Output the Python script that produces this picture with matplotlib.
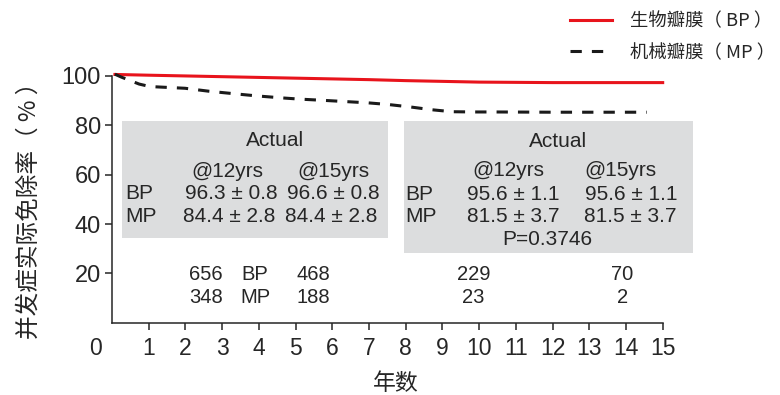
import numpy as np
import matplotlib.pyplot as plt
from matplotlib.patches import Rectangle
from matplotlib.transforms import ScaledTranslation

plt.rcParams['font.family'] = ['Liberation Sans', 'Noto Sans CJK SC', 'DejaVu Sans']
CJK = ['Noto Sans CJK SC', 'Liberation Sans', 'DejaVu Sans']
INK = '#262626'

# freedom from complications, %, by year
bp_years = [0.08, 1, 2, 3, 4, 5, 6, 7, 8, 9, 10, 11, 12, 13, 14, 15]
bp_rate = [100.6, 100.3, 100.0, 99.7, 99.4, 99.1, 98.8, 98.5, 98.1, 97.8,
           97.5, 97.4, 97.3, 97.3, 97.3, 97.3]
mp_years = [0.08, 0.26, 0.74, 1.03, 1.44, 1.99, 2.64, 3.32, 3.95, 4.63,
            5.12, 5.77, 6.37, 6.97, 7.54, 8.14, 8.71, 9.26, 9.86, 10.4,
            12.0, 14.57]
mp_rate = [100.7, 99.5, 96.7, 95.7, 95.4, 95.0, 93.8, 92.8, 91.9, 91.1,
           90.6, 90.1, 89.6, 89.1, 88.4, 87.4, 86.3, 85.5, 85.4, 85.4,
           85.3, 85.3]

# numbers at risk
risk_bp = [656, 468, 229, 70]
risk_mp = [348, 188, 23, 2]

x_ticks = list(range(16))
y_ticks = [20, 40, 60, 80, 100]

fig = plt.figure(figsize=(7.8, 3.95), dpi=100)
ax = fig.add_axes([0.1436, 0.183, 0.706, 0.631])

ax.plot(bp_years, bp_rate, color='#e8141c', lw=2.2, clip_on=False,
        label='生物瓣膜（ BP ）', zorder=3)
ax.plot(mp_years, mp_rate, color='#1a1a1a', lw=2.2, dashes=(3.7, 3.3),
        clip_on=False, label='机械瓣膜（ MP ）', zorder=3)

ax.set_xlim(0, 15)
ax.set_ylim(0, 101)
ax.spines['top'].set_visible(False)
ax.spines['right'].set_visible(False)
for s in ['left', 'bottom']:
    ax.spines[s].set_color(INK)
    ax.spines[s].set_linewidth(1.1)
ax.spines['left'].set_bounds(0, 100)

ax.set_xticks(x_ticks)
ax.set_xticklabels([str(t) for t in x_ticks])
ax.set_yticks(y_ticks)
ax.set_yticklabels([str(t) for t in y_ticks])
ax.tick_params(axis='x', length=5, width=1.1, color=INK, labelcolor=INK,
               labelsize=16.5, pad=5)
ax.tick_params(axis='y', length=5, width=1.1, color=INK, labelcolor=INK,
               labelsize=17, pad=3)
# the 0 label sits left of the y axis, with no tick
ax.xaxis.get_major_ticks()[0].tick1line.set_visible(False)
lbl0 = ax.get_xticklabels()[0]
lbl0.set_transform(lbl0.get_transform() + ScaledTranslation(-0.17, 0, fig.dpi_scale_trans))

fig.text(29 / 780, 1 - 205 / 395, '并发症实际免除率（ % ）', rotation=90,
         ha='center', va='center', fontsize=17, color=INK, family=CJK)
fig.text(396 / 780, 1 - 384 / 395, '年数', ha='center', va='center',
         fontsize=16.5, color=INK, family=CJK)

# summary boxes
box_kw = dict(facecolor='#dcddde', edgecolor='none', clip_on=False, zorder=1)
ax.add_patch(Rectangle((0.27, 34.3), 7.25, 47.5, **box_kw))
ax.add_patch(Rectangle((7.95, 28.3), 7.88, 53.3, **box_kw))

tkw = dict(fontsize=15, color=INK, va='center', zorder=2)
ax.text(4.43, 73.7, 'Actual', ha='center', **tkw)
ax.text(3.13, 61.3, '@12yrs', ha='center', **tkw)
ax.text(6.02, 61.3, '@15yrs', ha='center', **tkw)
ax.text(0.36, 52.3, 'BP', ha='left', **tkw)
ax.text(3.24, 52.3, '96.3 ± 0.8', ha='center', **tkw)
ax.text(6.02, 52.3, '96.6 ± 0.8', ha='center', **tkw)
ax.text(0.36, 43.0, 'MP', ha='left', **tkw)
ax.text(3.19, 43.0, '84.4 ± 2.8', ha='center', **tkw)
ax.text(5.97, 43.0, '84.4 ± 2.8', ha='center', **tkw)

ax.text(12.15, 73.5, 'Actual', ha='center', **tkw)
ax.text(10.79, 61.6, '@12yrs', ha='center', **tkw)
ax.text(13.85, 61.6, '@15yrs', ha='center', **tkw)
ax.text(7.98, 51.8, 'BP', ha='left', **tkw)
ax.text(10.94, 51.8, '95.6 ± 1.1', ha='center', **tkw)
ax.text(14.15, 51.8, '95.6 ± 1.1', ha='center', **tkw)
ax.text(7.98, 43.0, 'MP', ha='left', **tkw)
ax.text(10.92, 43.0, '81.5 ± 3.7', ha='center', **tkw)
ax.text(14.11, 43.0, '81.5 ± 3.7', ha='center', **tkw)
ax.text(11.85, 33.9, 'P=0.3746', ha='center', **tkw)

# numbers at risk under the curves
risk_x = [2.56, 5.48, 9.84, 13.9]
rkw = dict(fontsize=14.5, color=INK, va='center', ha='center')
for xr, nb, nm in zip(risk_x, risk_bp, risk_mp):
    ax.text(xr, 19.7, str(nb), **rkw)
    ax.text(xr, 10.2, str(nm), **rkw)
ax.text(3.88, 19.7, 'BP', **rkw)
ax.text(3.92, 10.2, 'MP', **rkw)

leg = ax.legend(loc='upper left', bbox_to_anchor=(570 / 780, 1 - 12 / 395),
                bbox_transform=fig.transFigure, frameon=False,
                handlelength=2.3, handletextpad=0.95, labelspacing=0.75,
                borderpad=0, borderaxespad=0, prop={'family': CJK, 'size': 13.2})
for t in leg.get_texts():
    t.set_color(INK)

fig.savefig('out.png', dpi=100)
